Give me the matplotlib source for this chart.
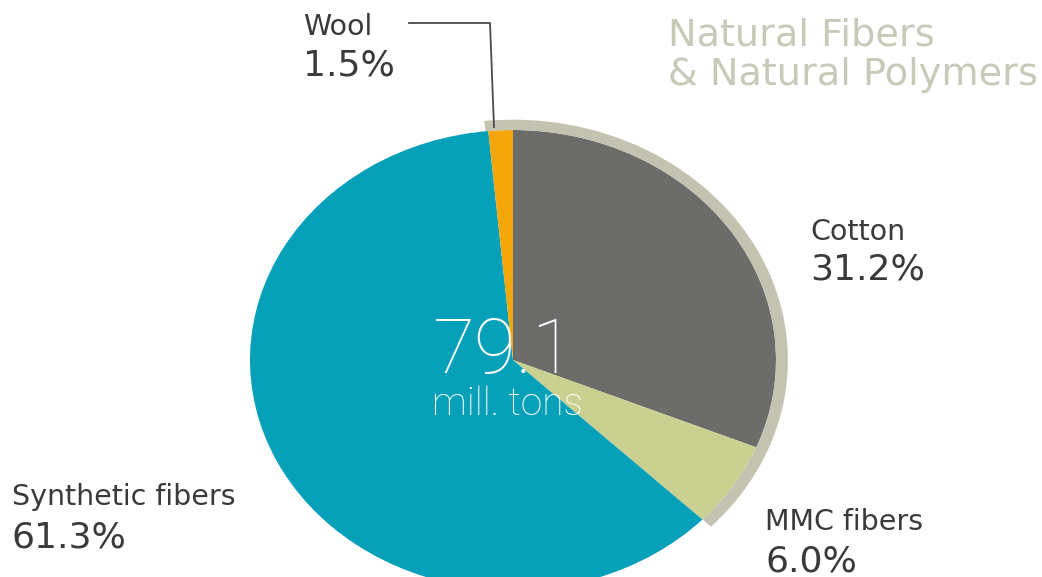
import matplotlib
matplotlib.use("Agg")
import matplotlib.pyplot as plt
from matplotlib.patches import Wedge

# fiber shares (percent of 79.1 mill. tons)
fibers = ["Cotton", "MMC fibers", "Synthetic fibers", "Wool"]
shares = [31.2, 6.0, 61.3, 1.5]
colors = ["#6c6c6a", "#cad08f", "#06a0b9", "#f4a70a"]
total_text = "79.1"
total_unit = "mill. tons"

W, H = 1042, 577
# ellipse centre and radii in pixels (source picture is stretched sideways)
cx, cy, rx, ry = 513, 360, 263, 230
lim = 1.2


def main():
    fig = plt.figure(figsize=(W / 100, H / 100), dpi=100)
    fig.patch.set_facecolor("white")

    # pie axes, sized so the unit circle becomes the ellipse
    left = (cx - lim * rx) / W
    top = cy - lim * ry
    bottom = (H - (top + 2 * lim * ry)) / H
    ax = fig.add_axes([left, bottom, 2 * lim * rx / W, 2 * lim * ry / H])
    ax.pie(shares, colors=colors, startangle=90, counterclock=False,
           radius=1, wedgeprops=dict(linewidth=0))
    ax.set_aspect("auto")
    ax.set_xlim(-lim, lim)
    ax.set_ylim(-lim, lim)
    ax.axis("off")

    # natural fibers band: wool + cotton + MMC
    start = 90 - 360 * (shares[0] + shares[1]) / 100
    end = 90 + 360 * shares[3] / 100 + 0.6
    ax.add_patch(Wedge((0, 0), 1.045, start, end, width=0.045,
                       facecolor="#c4c3b1", linewidth=0))

    # overlay in pixel coordinates for texts and the leader line
    ov = fig.add_axes([0, 0, 1, 1])
    ov.set_xlim(0, W)
    ov.set_ylim(H, 0)
    ov.patch.set_alpha(0)
    ov.axis("off")

    ov.plot([409, 490, 494], [23, 23, 127], color="#4a4a4a", lw=1.3)

    label_color = "#3a3a3a"
    name_size, pct_size = 20.5, 26
    labels = {
        "Wool": (303, 35, 75),
        "Cotton": (810, 240, 280),
        "Synthetic fibers": (12, 505, 548),
        "MMC fibers": (765, 530, 571),
    }
    for name, share in zip(fibers, shares):
        x, y1, y2 = labels[name]
        ov.text(x, y1, name, fontsize=name_size, color=label_color,
                va="baseline", ha="left")
        ov.text(x, y2, f"{share:.1f}%", fontsize=pct_size,
                color=label_color, va="baseline", ha="left")

    ov.text(668, 45, "Natural Fibers", fontsize=27.5, color="#c9c9b9",
            va="baseline", ha="left")
    ov.text(668, 85, "& Natural Polymers", fontsize=27.5, color="#c9c9b9",
            va="baseline", ha="left")

    ov.text(503, 373, total_text, fontsize=55, color="white",
            family=["Roboto", "DejaVu Sans"], fontweight="light",
            va="baseline", ha="center")
    ov.text(507, 415, total_unit, fontsize=28, color="white",
            family=["Roboto", "DejaVu Sans"], fontweight="light",
            va="baseline", ha="center")

    fig.savefig("out.png", dpi=100)


if __name__ == "__main__":
    main()
